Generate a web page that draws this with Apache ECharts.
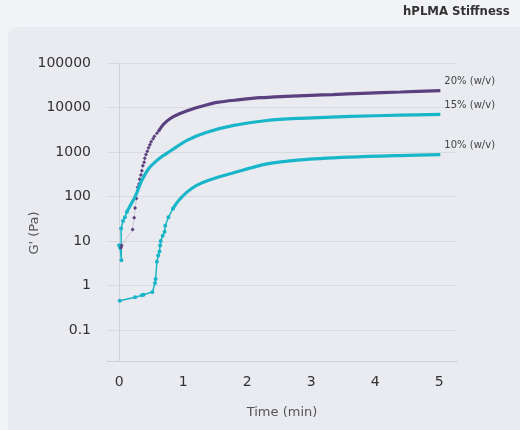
<!DOCTYPE html>
<html>
<head>
<meta charset="utf-8">
<script src="https://cdn.jsdelivr.net/npm/echarts@6/dist/echarts.min.js"></script>
<style>
html,body{margin:0;padding:0;background:#f2f3f6;}
#chart{width:520px;height:430px;}
</style>
</head>
<body>
<div id="chart"></div>
<script>
// ---- data (time in min, G' in Pa) ----
var title = 'hPLMA Stiffness';
var xName = 'Time (min)';
var yName = "G' (Pa)";
var seriesNames = ['20% (w/v)', '15% (w/v)', '10% (w/v)'];

var t20Early = [0.03, 0.04, 0.21, 0.235, 0.25, 0.27, 0.29, 0.31, 0.32, 0.34, 0.355, 0.37, 0.39, 0.40, 0.42, 0.44, 0.46, 0.48, 0.50, 0.53, 0.55, 0.59, 0.62];
var g20Early = [7.0, 7.9, 18, 33, 55, 90, 160, 190, 245, 305, 380, 490, 590, 720, 880, 1040, 1240, 1450, 1700, 1970, 2250, 2640, 3000];
var t20Late = [0.62, 0.69, 0.80, 0.95, 1.1, 1.22, 1.53, 1.89, 2.2, 2.6, 3.0, 3.34, 3.8, 4.4, 5.02];
var g20Late = [3000, 4150, 5650, 7300, 8800, 10000, 13000, 15000, 16600, 17800, 18800, 19500, 20800, 22300, 24000];

var t15Early = [0, 0.015, 0.035, 0.03, 0.06, 0.09, 0.12];
var g15Early = [8, 7, 3.7, 19, 28, 34, 45];
var t15Late = [0.12, 0.16, 0.2, 0.24, 0.28, 0.33, 0.38, 0.46, 0.56, 0.69, 0.8, 1.06, 1.37, 1.79, 2.31, 2.83, 3.61, 4.39, 5.02];
var g15Late = [45, 57, 73, 93, 125, 193, 270, 420, 590, 830, 1050, 1820, 2770, 3950, 5100, 5700, 6300, 6700, 7000];

var t10Early = [0.01, 0.25, 0.355, 0.38, 0.52, 0.56, 0.57, 0.59, 0.61, 0.63, 0.64, 0.65, 0.68, 0.71, 0.72, 0.77, 0.84];
var g10Early = [0.45, 0.54, 0.6, 0.62, 0.71, 1.13, 1.4, 3.4, 4.7, 5.8, 7.9, 10, 13, 16, 22, 34, 53];
var t10Late = [0.84, 0.93, 1.06, 1.21, 1.42, 1.73, 2.31, 2.83, 3.61, 4.39, 5.02];
var g10Late = [53, 81, 125, 178, 238, 323, 540, 665, 765, 830, 870];

var xTicks = [0, 1, 2, 3, 4, 5];
var yTicks = [0.1, 1, 10, 100, 1000, 10000, 100000];

// ---- build ----
function pairs(t, g) { return t.map(function (v, i) { return [v, g[i]]; }); }
var PURPLE = '#5b4080', CYAN = '#19b6ca';
var FONT = 'DejaVu Sans';

function early(name, t, g, color, sym, lw, op) {
  return {
    name: name, type: 'line', data: pairs(t, g), showSymbol: true,
    symbol: sym, symbolSize: 4, itemStyle: { color: color },
    lineStyle: { color: color, width: lw, opacity: op }, z: 3
  };
}
function late(name, t, g, color, lw) {
  return {
    name: name, type: 'line', data: pairs(t, g), showSymbol: false, smooth: 0.3,
    lineStyle: { color: color, width: lw }, itemStyle: { color: color }, z: 4,
    endLabel: { show: true, formatter: name, color: '#444', fontSize: 10, fontFamily: FONT,
      distance: 2, offset: [2, -9] }
  };
}

var chart = echarts.init(document.getElementById('chart'), null, { renderer: 'canvas' });
chart.setOption({
  animation: false,
  backgroundColor: '#f2f3f6',
  graphic: [
    { type: 'rect', z: -10, shape: { x: 8, y: 27, width: 530, height: 420, r: 10 }, style: { fill: '#eaebf0' } },
    { type: 'text', left: 403, top: 6, style: { text: title, font: 'bold 11.7px "DejaVu Sans"', fill: '#333' } },
    { type: 'text', x: 28, y: 233, rotation: Math.PI / 2, style: { text: yName, font: '13px "DejaVu Sans"', fill: '#555', align: 'center', verticalAlign: 'top' } }
  ],
  grid: { left: 107, right: 63, top: 63, bottom: 69, containLabel: false },
  xAxis: {
    type: 'value', min: -0.19, max: 5.28,
    name: xName, nameLocation: 'middle', nameGap: 45,
    nameTextStyle: { color: '#555', fontSize: 13, fontFamily: FONT },
    axisLine: { onZero: false, lineStyle: { color: '#cfd0d5' } },
    axisTick: { show: false },
    splitLine: { show: false },
    axisLabel: {
      color: '#333', fontSize: 14, fontFamily: FONT, margin: 14,
      showMinLabel: false, showMaxLabel: false,
      formatter: function (v) { return xTicks.indexOf(Math.round(v * 1000) / 1000) >= 0 ? String(Math.round(v)) : ''; }
    }
  },
  yAxis: {
    type: 'log', logBase: 10, min: 0.02, max: 100000, splitNumber: 7,
    axisLine: { show: true, onZero: true, lineStyle: { color: '#d2d3d8' } },
    axisTick: { show: false },
    splitLine: { show: true, lineStyle: { color: '#d9dadf', width: 1 } },
    axisLabel: {
      color: '#333', fontSize: 14, fontFamily: FONT, margin: 16, showMinLabel: false,
      formatter: function (v) {
        var s = +(+v).toPrecision(6);
        for (var i = 0; i < yTicks.length; i++) { if (Math.abs(s - yTicks[i]) / yTicks[i] < 1e-6) return String(yTicks[i]); }
        return '';
      }
    }
  },
  series: [
    early(seriesNames[2], t10Early, g10Early, CYAN, 'circle', 1.5, 1),
    late(seriesNames[2], t10Late, g10Late, CYAN, 3.2),
    early(seriesNames[1], t15Early, g15Early, CYAN, 'circle', 1.5, 1),
    late(seriesNames[1], t15Late, g15Late, CYAN, 3.2),
    early(seriesNames[0], t20Early, g20Early, PURPLE, 'diamond', 0.6, 0.35),
    late(seriesNames[0], t20Late, g20Late, PURPLE, 3.2)
  ]
});
</script>
</body>
</html>
